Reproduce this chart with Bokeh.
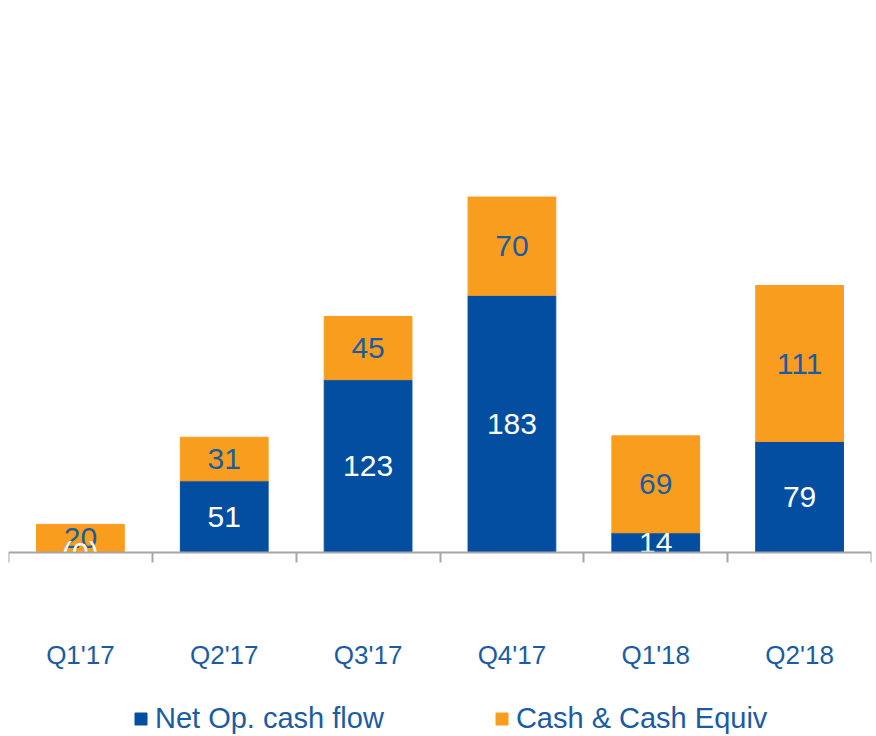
from bokeh.plotting import figure
from bokeh.models import ColumnDataSource, FixedTicker, Legend, LegendItem, Range1d
from bokeh.core.properties import value
from bokeh.embed import file_html
from bokeh.resources import INLINE

quarters = ["Q1'17", "Q2'17", "Q3'17", "Q4'17", "Q1'18", "Q2'18"]
net_op = [0, 51, 123, 183, 14, 79]
cash_eq = [20, 31, 45, 70, 69, 111]
net_labels = ["(0)", "51", "123", "183", "14", "79"]
cash_labels = ["20", "31", "45", "70", "69", "111"]

BLUE = "#034EA0"
ORANGE = "#F99D1E"
TXT = "#1A5CA4"
FONT = "Liberation Sans"

xs = [i + 0.5 for i in range(len(quarters))]
tops = [a + b for a, b in zip(net_op, cash_eq)]
src = ColumnDataSource(dict(
    x=xs, net=net_op, cash=cash_eq, top=tops,
    net_mid=[n / 2 for n in net_op],
    cash_mid=[n + c / 2 for n, c in zip(net_op, cash_eq)],
    net_lab=net_labels, cash_lab=cash_labels,
))

p = figure(width=876, height=736, output_backend="svg", toolbar_location=None,
           x_range=Range1d(0, 6), y_range=Range1d(-131.0, 387.2),
           min_border_left=8, min_border_right=5, min_border_top=8, min_border_bottom=0)
p.outline_line_color = None
p.grid.visible = False
p.yaxis.visible = False

r_net = p.vbar(x="x", bottom=0, top="net", width=0.61, color=BLUE, source=src)
r_cash = p.vbar(x="x", bottom="net", top="top", width=0.61, color=ORANGE, source=src)

p.text(x="x", y="cash_mid", text="cash_lab", source=src, text_align="center",
       text_baseline="middle", text_color=TXT, text_font=value(FONT), text_font_size="30px")
p.text(x="x", y="net_mid", text="net_lab", source=src, text_align="center",
       text_baseline="middle", text_color="white", text_font=value(FONT), text_font_size="30px")

ax = p.xaxis[0]
ax.fixed_location = 0
ax.ticker = FixedTicker(ticks=xs, minor_ticks=list(range(len(quarters) + 1)))
ax.major_label_overrides = {x: q for x, q in zip(xs, quarters)}
ax.major_tick_line_color = None
ax.minor_tick_out = 10
ax.minor_tick_in = 0
ax.minor_tick_line_color = "#A6A6A6"
ax.minor_tick_line_width = 2
ax.axis_line_color = "#A6A6A6"
ax.axis_line_width = 2
ax.major_label_standoff = 78
ax.major_label_text_font = FONT
ax.major_label_text_font_size = "26px"
ax.major_label_text_color = TXT

legend = Legend(items=[LegendItem(label="Net Op. cash flow", renderers=[r_net]),
                       LegendItem(label="Cash & Cash Equiv", renderers=[r_cash])],
                orientation="horizontal", location=(125, 1),
                glyph_width=15, glyph_height=15, label_standoff=7, spacing=110,
                padding=0, margin=0, border_line_color=None, background_fill_alpha=0,
                label_text_font=FONT, label_text_font_size="29px", label_text_color=TXT)
p.add_layout(legend, "center")

open("out.html", "w").write(file_html(p, INLINE))
